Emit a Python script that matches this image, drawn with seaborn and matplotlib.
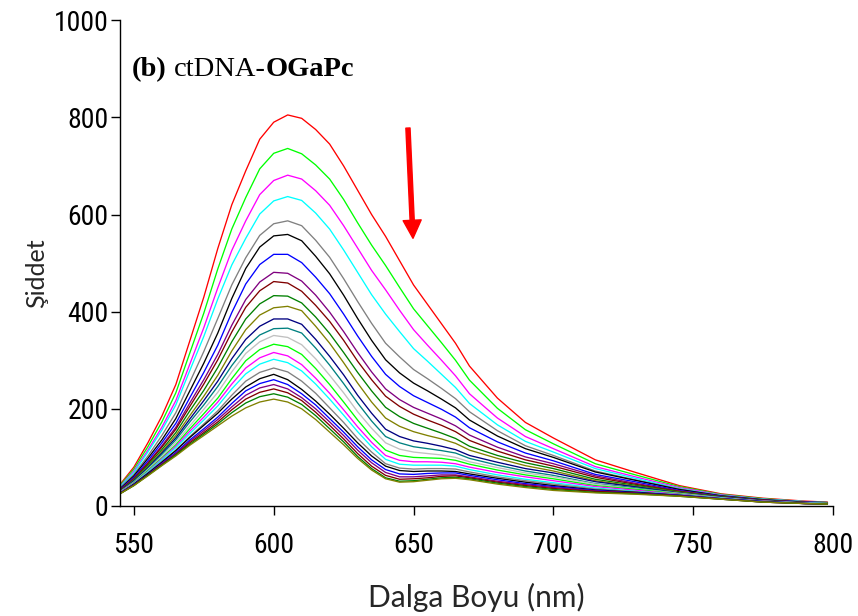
import matplotlib
matplotlib.use("Agg")
import matplotlib.pyplot as plt
from matplotlib import font_manager
from matplotlib.font_manager import FontProperties
import seaborn as sns
import pandas as pd

# ---------------- data ----------------
wavelength = [545, 550, 555, 560, 565, 570, 575, 580, 585, 590, 595, 600, 605, 610,
              615, 620, 625, 630, 635, 640, 645, 650, 655, 660, 665, 670, 680, 690,
              700, 715, 730, 745, 760, 775, 790, 798]

s01 = [44, 80, 130, 185, 250, 340, 430, 530, 620, 690, 755, 790, 805, 798, 775, 745, 700, 650, 600, 555, 505, 455, 415, 375, 335, 288, 222, 172, 140, 95, 68, 42, 25, 16, 10, 8]
s02 = [42, 76, 122, 173, 233, 315, 397, 488, 570, 635, 694, 726, 736, 725, 702, 673, 631, 583, 537, 495, 450, 406, 371, 336, 300, 259, 201, 157, 128, 87, 63, 40, 24, 15, 9, 7]
s03 = [40, 72, 115, 162, 217, 292, 367, 449, 526, 587, 641, 670, 681, 673, 649, 619, 577, 531, 485, 445, 403, 363, 331, 300, 268, 231, 181, 143, 118, 81, 59, 38, 23, 14, 9, 7]
s04 = [39, 69, 111, 156, 208, 279, 349, 426, 496, 551, 601, 628, 637, 629, 603, 570, 527, 481, 435, 395, 359, 324, 298, 271, 244, 211, 167, 133, 111, 77, 56, 36, 22, 14, 9, 7]
s05 = [37, 65, 103, 145, 192, 255, 318, 386, 455, 511, 557, 581, 587, 577, 547, 512, 468, 421, 376, 335, 307, 281, 262, 242, 221, 194, 155, 124, 104, 72, 53, 35, 21, 13, 8, 7]
s06 = [35, 62, 98, 136, 180, 237, 294, 356, 427, 489, 533, 556, 559, 546, 514, 478, 434, 386, 341, 301, 274, 253, 237, 220, 202, 177, 144, 118, 100, 70, 52, 34, 21, 13, 8, 7]
s07 = [34, 59, 93, 130, 170, 223, 275, 331, 398, 457, 497, 518, 518, 501, 471, 437, 395, 350, 308, 271, 246, 227, 213, 199, 183, 161, 132, 109, 93, 65, 49, 32, 20, 12, 8, 6]
s08 = [33, 57, 89, 124, 162, 212, 260, 312, 372, 425, 461, 481, 479, 463, 434, 399, 359, 316, 276, 241, 219, 203, 191, 179, 165, 146, 121, 101, 87, 62, 46, 31, 20, 12, 8, 6]
s09 = [32, 56, 87, 121, 158, 205, 251, 301, 358, 409, 443, 462, 459, 442, 413, 380, 341, 298, 260, 226, 205, 189, 177, 166, 153, 135, 113, 95, 82, 59, 44, 30, 19, 12, 7, 6]
s10 = [31, 54, 84, 116, 151, 196, 238, 285, 338, 385, 416, 433, 432, 418, 389, 355, 316, 275, 237, 203, 184, 170, 160, 150, 139, 123, 104, 89, 77, 55, 42, 29, 19, 11, 7, 6]
s11 = [30, 53, 81, 112, 145, 186, 226, 269, 319, 363, 393, 408, 411, 402, 370, 335, 295, 253, 214, 181, 164, 153, 145, 138, 129, 115, 98, 83, 72, 52, 40, 28, 18, 11, 7, 6]
s12 = [30, 52, 79, 109, 140, 179, 217, 257, 303, 343, 370, 385, 385, 374, 343, 308, 270, 228, 191, 158, 143, 134, 129, 123, 116, 104, 90, 77, 68, 50, 39, 27, 18, 11, 7, 5]
s13 = [29, 50, 77, 106, 136, 173, 208, 246, 289, 326, 352, 365, 366, 356, 325, 290, 252, 212, 175, 143, 130, 122, 118, 114, 109, 98, 84, 72, 63, 46, 37, 26, 17, 10, 6, 5]
s14 = [29, 49, 75, 102, 131, 165, 199, 234, 276, 314, 338, 351, 347, 332, 303, 269, 233, 194, 160, 130, 117, 111, 108, 105, 100, 91, 79, 68, 60, 45, 35, 26, 17, 10, 6, 5]
s15 = [28, 48, 73, 99, 126, 159, 190, 222, 262, 299, 322, 333, 328, 312, 283, 250, 214, 177, 143, 115, 104, 100, 99, 98, 94, 86, 74, 64, 56, 42, 34, 25, 16, 10, 6, 5]
s16 = [28, 47, 71, 97, 123, 154, 183, 214, 251, 284, 305, 316, 309, 291, 263, 232, 198, 163, 131, 104, 94, 91, 91, 90, 87, 80, 69, 60, 52, 40, 32, 24, 16, 10, 6, 5]
s17 = [27, 46, 70, 95, 120, 149, 177, 206, 241, 272, 292, 302, 295, 278, 251, 220, 187, 153, 122, 96, 86, 84, 84, 84, 82, 75, 64, 55, 48, 37, 30, 23, 16, 9, 6, 5]
s18 = [27, 45, 68, 92, 115, 143, 169, 196, 228, 257, 275, 284, 276, 257, 232, 202, 172, 139, 111, 87, 78, 76, 77, 77, 76, 70, 60, 52, 45, 35, 29, 23, 15, 9, 6, 4]
s19 = [26, 45, 67, 90, 114, 141, 166, 191, 220, 245, 262, 271, 260, 240, 216, 189, 160, 130, 103, 82, 73, 71, 72, 72, 71, 66, 57, 49, 42, 33, 28, 22, 15, 9, 5, 4]
s20 = [26, 44, 65, 88, 110, 136, 159, 183, 211, 237, 252, 260, 250, 231, 208, 180, 152, 122, 95, 75, 66, 65, 67, 68, 68, 63, 54, 46, 40, 32, 27, 22, 15, 9, 5, 4]
s21 = [26, 43, 64, 87, 108, 133, 155, 178, 204, 228, 243, 250, 241, 223, 200, 173, 145, 115, 89, 69, 60, 60, 62, 64, 64, 60, 51, 44, 38, 31, 26, 21, 15, 8, 5, 4]
s22 = [25, 43, 64, 85, 106, 130, 151, 173, 198, 220, 234, 241, 233, 217, 193, 166, 138, 108, 82, 63, 55, 56, 58, 61, 62, 58, 49, 42, 36, 30, 26, 21, 14, 8, 5, 4]
s23 = [25, 42, 63, 84, 105, 127, 148, 169, 192, 212, 225, 231, 224, 209, 186, 159, 132, 102, 77, 58, 51, 52, 55, 58, 59, 56, 47, 40, 34, 28, 25, 20, 14, 8, 5, 4]
s24 = [25, 42, 62, 83, 103, 125, 145, 165, 185, 202, 214, 220, 214, 200, 178, 152, 126, 98, 74, 56, 49, 50, 53, 56, 57, 54, 45, 38, 32, 27, 24, 20, 14, 8, 5, 4]

series = [s01, s02, s03, s04, s05, s06, s07, s08, s09, s10, s11, s12,
          s13, s14, s15, s16, s17, s18, s19, s20, s21, s22, s23, s24]

colors = ["#FF0000", "#00FF00", "#FF00FF", "#00FFFF", "#808080", "#000000",
          "#0000FF", "#800080", "#800000", "#008000", "#808000", "#000080",
          "#008080", "#C0C0C0", "#00FF00", "#FF00FF", "#00FFFF", "#808080",
          "#000000", "#0000FF", "#800080", "#800000", "#008000", "#808000"]

x_ticks = [550, 600, 650, 700, 750, 800]
y_ticks = [0, 200, 400, 600, 800, 1000]

# ---------------- build table ----------------
rows = []
for i, s in enumerate(series):
    for w, v in zip(wavelength, s):
        rows.append({"wl": w, "val": v, "curve": f"c{i + 1:02d}"})
df = pd.DataFrame(rows)
hue_order = [f"c{i + 1:02d}" for i in range(len(series))]

# ---------------- style ----------------
sns.set_style("ticks")
names = {f.name for f in font_manager.fontManager.ttflist}
label_font = "Lato" if "Lato" in names else "DejaVu Sans"
serif_font = "Liberation Serif" if "Liberation Serif" in names else "DejaVu Serif"
plt.rcParams["font.family"] = [label_font, "DejaVu Sans"]

# condensed face for the tick numbers
narrow = None
for cand in ["Liberation Sans Narrow", "Arial Narrow", "Roboto Condensed",
             "Open Sans Condensed"]:
    if cand in names:
        narrow = FontProperties(family=cand, size=20)
        break
if narrow is None:
    path = font_manager.findfont(FontProperties(family="DejaVu Sans",
                                                stretch="condensed"))
    narrow = FontProperties(fname=path, size=19)

fig = plt.figure(figsize=(8.58, 6.16), dpi=100)
ax = fig.add_axes([0.1404, 0.1786, 0.8305, 0.7886])

sns.lineplot(data=df, x="wl", y="val", hue="curve", hue_order=hue_order,
             palette=colors, legend=False, linewidth=0.95, estimator=None,
             ax=ax)

ax.set_xlim(545.2, 800)
ax.set_ylim(0, 1000)
ax.set_xticks(x_ticks)
ax.set_yticks(y_ticks)
ax.set_xticklabels([str(t) for t in x_ticks], fontproperties=narrow)
ax.set_yticklabels([str(t) for t in y_ticks], fontproperties=narrow)
ax.tick_params(axis="x", direction="out", length=6.5, width=1, pad=12, colors="black")
ax.tick_params(axis="y", direction="out", length=6.5, width=1, pad=2, colors="black")

for side in ["top", "right"]:
    ax.spines[side].set_visible(False)
for side in ["left", "bottom"]:
    ax.spines[side].set_color("black")
    ax.spines[side].set_linewidth(1.0)

ax.set_xlabel("Dalga Boyu (nm)", fontsize=21.5, family=[label_font, "DejaVu Sans"])
ax.set_ylabel("Şiddet", fontsize=18, family=[label_font, "DejaVu Sans"])
ax.xaxis.set_label_coords(0.5, -0.158)
ax.yaxis.set_label_coords(-0.102, 0.48)

# title inside axes: (b) ctDNA-OGaPc
t1 = ax.text(0.016, 0.885, "(b)", transform=ax.transAxes, fontsize=20.5,
             fontweight="bold", family=serif_font, va="baseline", ha="left",
             color="black")
t2 = ax.annotate("ctDNA-", xy=(1, 0), xycoords=t1, xytext=(5, 0),
                 textcoords="offset points", fontsize=20.5, family=serif_font,
                 va="bottom", ha="left", color="black")
t3 = ax.annotate("OGaPc", xy=(1, 0), xycoords=t2, fontsize=20.5,
                 fontweight="bold", family=serif_font, va="bottom", ha="left",
                 color="black")

# red arrow
ax.annotate("", xy=(649.8, 551), xytext=(648, 778),
            arrowprops=dict(facecolor="red", edgecolor="red", width=3,
                            headwidth=13, headlength=13, shrink=0))

fig.savefig("out.png", dpi=100)
